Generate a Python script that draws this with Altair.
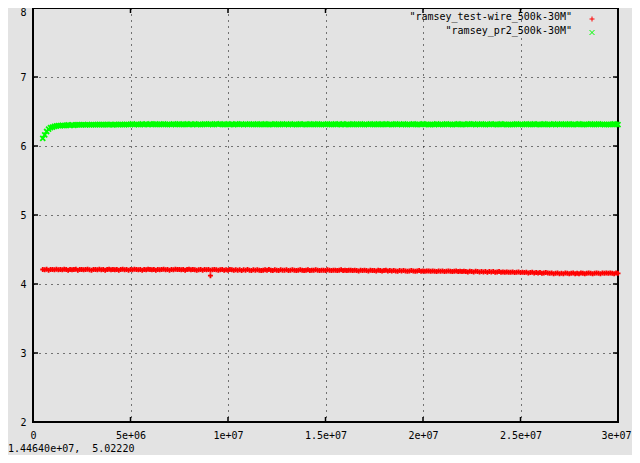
import altair as alt
import pandas as pd

# ---------------- data (x in units of 1e6) ----------------
X_M = [
    0.5, 0.6, 0.7, 0.8, 0.9, 1.0, 1.1, 1.2, 1.3, 1.4,
    1.5, 1.6, 1.7, 1.8, 1.9, 2.0, 2.1, 2.2, 2.3, 2.4,
    2.5, 2.6, 2.7, 2.8, 2.9, 3.0, 3.1, 3.2, 3.3, 3.4,
    3.5, 3.6, 3.7, 3.8, 3.9, 4.0, 4.1, 4.2, 4.3, 4.4,
    4.5, 4.6, 4.7, 4.8, 4.9, 5.0, 5.1, 5.2, 5.3, 5.4,
    5.5, 5.6, 5.7, 5.8, 5.9, 6.0, 6.1, 6.2, 6.3, 6.4,
    6.5, 6.6, 6.7, 6.8, 6.9, 7.0, 7.1, 7.2, 7.3, 7.4,
    7.5, 7.6, 7.7, 7.8, 7.9, 8.0, 8.1, 8.2, 8.3, 8.4,
    8.5, 8.6, 8.7, 8.8, 8.9, 9.0, 9.1, 9.2, 9.3, 9.4,
    9.5, 9.6, 9.7, 9.8, 9.9, 10.0, 10.1, 10.2, 10.3, 10.4,
    10.5, 10.6, 10.7, 10.8, 10.9, 11.0, 11.1, 11.2, 11.3, 11.4,
    11.5, 11.6, 11.7, 11.8, 11.9, 12.0, 12.1, 12.2, 12.3, 12.4,
    12.5, 12.6, 12.7, 12.8, 12.9, 13.0, 13.1, 13.2, 13.3, 13.4,
    13.5, 13.6, 13.7, 13.8, 13.9, 14.0, 14.1, 14.2, 14.3, 14.4,
    14.5, 14.6, 14.7, 14.8, 14.9, 15.0, 15.1, 15.2, 15.3, 15.4,
    15.5, 15.6, 15.7, 15.8, 15.9, 16.0, 16.1, 16.2, 16.3, 16.4,
    16.5, 16.6, 16.7, 16.8, 16.9, 17.0, 17.1, 17.2, 17.3, 17.4,
    17.5, 17.6, 17.7, 17.8, 17.9, 18.0, 18.1, 18.2, 18.3, 18.4,
    18.5, 18.6, 18.7, 18.8, 18.9, 19.0, 19.1, 19.2, 19.3, 19.4,
    19.5, 19.6, 19.7, 19.8, 19.9, 20.0, 20.1, 20.2, 20.3, 20.4,
    20.5, 20.6, 20.7, 20.8, 20.9, 21.0, 21.1, 21.2, 21.3, 21.4,
    21.5, 21.6, 21.7, 21.8, 21.9, 22.0, 22.1, 22.2, 22.3, 22.4,
    22.5, 22.6, 22.7, 22.8, 22.9, 23.0, 23.1, 23.2, 23.3, 23.4,
    23.5, 23.6, 23.7, 23.8, 23.9, 24.0, 24.1, 24.2, 24.3, 24.4,
    24.5, 24.6, 24.7, 24.8, 24.9, 25.0, 25.1, 25.2, 25.3, 25.4,
    25.5, 25.6, 25.7, 25.8, 25.9, 26.0, 26.1, 26.2, 26.3, 26.4,
    26.5, 26.6, 26.7, 26.8, 26.9, 27.0, 27.1, 27.2, 27.3, 27.4,
    27.5, 27.6, 27.7, 27.8, 27.9, 28.0, 28.1, 28.2, 28.3, 28.4,
    28.5, 28.6, 28.7, 28.8, 28.9, 29.0, 29.1, 29.2, 29.3, 29.4,
    29.5, 29.6, 29.7, 29.8, 29.9, 30.0,
]

RED_Y = [
    4.21, 4.205, 4.215, 4.2, 4.21, 4.21, 4.205, 4.215, 4.205, 4.21,
    4.205, 4.215, 4.21, 4.2, 4.21, 4.205, 4.21, 4.215, 4.2, 4.21,
    4.21, 4.205, 4.21, 4.215, 4.205, 4.2, 4.21, 4.21, 4.205, 4.215,
    4.205, 4.21, 4.2, 4.21, 4.215, 4.205, 4.21, 4.205, 4.21, 4.2,
    4.21, 4.215, 4.205, 4.21, 4.2, 4.21, 4.205, 4.215, 4.21, 4.205,
    4.21, 4.2, 4.21, 4.205, 4.215, 4.21, 4.205, 4.21, 4.2, 4.21,
    4.205, 4.21, 4.215, 4.205, 4.21, 4.2, 4.21, 4.205, 4.215, 4.21,
    4.21, 4.205, 4.21, 4.2, 4.21, 4.215, 4.205, 4.21, 4.205, 4.2,
    4.205, 4.21, 4.2, 4.21, 4.205, 4.21, 4.2, 4.205, 4.21, 4.205,
    4.2, 4.205, 4.21, 4.2, 4.205, 4.2, 4.21, 4.205, 4.2, 4.205,
    4.2, 4.205, 4.195, 4.205, 4.2, 4.21, 4.2, 4.195, 4.205, 4.2,
    4.205, 4.2, 4.195, 4.2, 4.205, 4.2, 4.21, 4.2, 4.195, 4.205,
    4.2, 4.195, 4.205, 4.2, 4.2, 4.205, 4.195, 4.2, 4.205, 4.2,
    4.195, 4.2, 4.205, 4.2, 4.195, 4.2, 4.205, 4.195, 4.2, 4.2,
    4.205, 4.2, 4.195, 4.2, 4.2, 4.195, 4.205, 4.2, 4.195, 4.2,
    4.2, 4.195, 4.2, 4.205, 4.195, 4.2, 4.195, 4.2, 4.2, 4.195,
    4.2, 4.195, 4.19, 4.2, 4.195, 4.2, 4.195, 4.19, 4.2, 4.195,
    4.195, 4.19, 4.2, 4.195, 4.19, 4.195, 4.2, 4.19, 4.195, 4.19,
    4.195, 4.19, 4.185, 4.195, 4.19, 4.195, 4.19, 4.185, 4.19, 4.195,
    4.19, 4.185, 4.19, 4.195, 4.185, 4.19, 4.185, 4.19, 4.19, 4.185,
    4.19, 4.185, 4.18, 4.19, 4.185, 4.19, 4.18, 4.185, 4.19, 4.185,
    4.18, 4.185, 4.19, 4.18, 4.185, 4.18, 4.185, 4.18, 4.175, 4.185,
    4.18, 4.175, 4.185, 4.18, 4.175, 4.18, 4.175, 4.18, 4.17, 4.18,
    4.175, 4.18, 4.17, 4.175, 4.18, 4.17, 4.175, 4.17, 4.175, 4.17,
    4.17, 4.175, 4.165, 4.17, 4.175, 4.165, 4.17, 4.165, 4.17, 4.16,
    4.165, 4.17, 4.16, 4.165, 4.16, 4.165, 4.155, 4.16, 4.165, 4.16,
    4.155, 4.16, 4.15, 4.155, 4.16, 4.15, 4.155, 4.15, 4.16, 4.155,
    4.15, 4.155, 4.16, 4.15, 4.155, 4.15, 4.16, 4.155, 4.15, 4.155,
    4.16, 4.155, 4.15, 4.155, 4.16, 4.155, 4.15, 4.16, 4.155, 4.16,
    4.155, 4.16, 4.155, 4.15, 4.16, 4.155,
]
RED_OUT_X_M = [9.1]
RED_OUT_Y = [4.12]

GREEN_Y = [
    6.11, 6.16, 6.21, 6.245, 6.265, 6.275, 6.285, 6.29, 6.295, 6.295,
    6.3, 6.295, 6.3, 6.305, 6.3, 6.305, 6.3, 6.305, 6.31, 6.305,
    6.305, 6.31, 6.305, 6.31, 6.305, 6.31, 6.31, 6.305, 6.31, 6.315,
    6.31, 6.305, 6.31, 6.315, 6.31, 6.31, 6.305, 6.315, 6.31, 6.31,
    6.315, 6.31, 6.31, 6.315, 6.31, 6.315, 6.32, 6.31, 6.315, 6.31,
    6.315, 6.32, 6.31, 6.315, 6.315, 6.32, 6.31, 6.315, 6.32, 6.315,
    6.31, 6.315, 6.32, 6.315, 6.31, 6.315, 6.315, 6.32, 6.31, 6.315,
    6.32, 6.315, 6.31, 6.315, 6.32, 6.315, 6.315, 6.31, 6.32, 6.315,
    6.315, 6.31, 6.315, 6.32, 6.315, 6.315, 6.32, 6.31, 6.315, 6.32,
    6.315, 6.32, 6.315, 6.31, 6.315, 6.32, 6.315, 6.315, 6.31, 6.32,
    6.315, 6.315, 6.32, 6.31, 6.315, 6.315, 6.32, 6.315, 6.31, 6.315,
    6.32, 6.315, 6.31, 6.315, 6.32, 6.315, 6.31, 6.315, 6.315, 6.32,
    6.315, 6.31, 6.315, 6.32, 6.315, 6.315, 6.31, 6.32, 6.315, 6.315,
    6.31, 6.315, 6.32, 6.315, 6.315, 6.31, 6.315, 6.32, 6.315, 6.31,
    6.315, 6.32, 6.315, 6.31, 6.315, 6.315, 6.32, 6.315, 6.31, 6.315,
    6.32, 6.315, 6.315, 6.31, 6.32, 6.315, 6.315, 6.31, 6.315, 6.32,
    6.315, 6.31, 6.315, 6.32, 6.315, 6.31, 6.315, 6.315, 6.32, 6.315,
    6.31, 6.315, 6.32, 6.315, 6.31, 6.315, 6.32, 6.315, 6.315, 6.31,
    6.315, 6.32, 6.315, 6.315, 6.31, 6.32, 6.315, 6.31, 6.315, 6.315,
    6.32, 6.315, 6.31, 6.315, 6.315, 6.32, 6.315, 6.315, 6.31, 6.315,
    6.315, 6.31, 6.32, 6.315, 6.315, 6.31, 6.315, 6.32, 6.315, 6.315,
    6.31, 6.315, 6.315, 6.32, 6.315, 6.31, 6.315, 6.315, 6.32, 6.315,
    6.315, 6.32, 6.31, 6.315, 6.315, 6.32, 6.315, 6.31, 6.315, 6.315,
    6.32, 6.315, 6.315, 6.31, 6.315, 6.32, 6.315, 6.315, 6.31, 6.315,
    6.315, 6.31, 6.315, 6.32, 6.315, 6.315, 6.31, 6.315, 6.32, 6.315,
    6.31, 6.315, 6.32, 6.315, 6.315, 6.31, 6.315, 6.32, 6.315, 6.31,
    6.315, 6.315, 6.32, 6.31, 6.315, 6.315, 6.32, 6.315, 6.31, 6.315,
    6.32, 6.315, 6.31, 6.315, 6.315, 6.32, 6.315, 6.31, 6.315, 6.315,
    6.315, 6.32, 6.315, 6.31, 6.315, 6.32, 6.315, 6.315, 6.31, 6.315,
    6.315, 6.31, 6.315, 6.32, 6.315, 6.31,
]

SERIES = ['"ramsey_test-wire_500k-30M"', '"ramsey_pr2_500k-30M"']
COLORS = ["#ff0000", "#00ff00"]
X_TICKS = [0, 5e6, 1e7, 1.5e7, 2e7, 2.5e7, 3e7]
X_TICK_LABELS = ["0", "5e+06", "1e+07", "1.5e+07", "2e+07", "2.5e+07", "3e+07"]
Y_TICKS = [2, 3, 4, 5, 6, 7, 8]
STATUS = "1.44640e+07,\u00a0 5.02220"

# ---------------- styling ----------------
FONT = "DejaVu Sans Mono"
FS = 10
W, H = 585, 414
PAD = {"left": 25, "top": 0, "right": 14, "bottom": 33}
BG = "#e3e3e3"
PLUS = "M-1,0L1,0M0,-1L0,1"
CROSS = "M-1,-1L1,1M-1,1L1,-1"

red_df = pd.DataFrame({"x": [v * 1e6 for v in X_M + RED_OUT_X_M], "y": RED_Y + RED_OUT_Y})
green_df = pd.DataFrame({"x": [v * 1e6 for v in X_M], "y": GREEN_Y})

xscale = alt.Scale(domain=[X_TICKS[0], X_TICKS[-1]], nice=False, zero=False)
yscale = alt.Scale(domain=[Y_TICKS[0], Y_TICKS[-1]], nice=False, zero=False)

label_expr = "[" + ",".join("'%s'" % s for s in X_TICK_LABELS) + "][round(datum.value/5000000)]"

grid_kw = dict(grid=True, gridDash=[1, 5], gridColor="black", gridOpacity=1, gridWidth=1,
               domain=False, ticks=False, labelFont=FONT, labelFontSize=FS,
               labelColor="black", title=None, labelOverlap=False, labelFlush=False)
xaxis = alt.Axis(
    values=X_TICKS, labelExpr=label_expr, labelPadding=8,
    labelOffset={"condition": {"test": "datum.value == %d" % X_TICKS[-1], "value": -2}, "value": 0},
    **grid_kw)
yaxis = alt.Axis(
    values=Y_TICKS, format="d", labelPadding=7,
    labelOffset={"condition": {"test": "datum.value == %d" % Y_TICKS[-1], "value": 4}, "value": 0},
    **grid_kw)

xenc = alt.X("x:Q", scale=xscale, axis=xaxis)
yenc = alt.Y("y:Q", scale=yscale, axis=yaxis)

red = alt.Chart(red_df).mark_point(shape=PLUS, size=25, strokeWidth=1.8, filled=False,
                                   opacity=1, color=COLORS[0]).encode(x=xenc, y=yenc)
green = alt.Chart(green_df).mark_point(shape=CROSS, size=25, strokeWidth=1.8, filled=False,
                                       opacity=1, color=COLORS[1]).encode(x=xenc, y=yenc)

xt_df = pd.DataFrame({"x": X_TICKS[1:-1]})
yt_df = pd.DataFrame({"y": Y_TICKS[1:-1]})
tick_mark = dict(color="black", strokeWidth=1.5)
ticks_bottom = alt.Chart(xt_df).mark_rule(**tick_mark).encode(x=xenc, y=alt.value(H), y2=alt.value(H - 5))
ticks_top = alt.Chart(xt_df).mark_rule(**tick_mark).encode(x=xenc, y=alt.value(0), y2=alt.value(5))
ticks_left = alt.Chart(yt_df).mark_rule(**tick_mark).encode(y=yenc, x=alt.value(0), x2=alt.value(5))
ticks_right = alt.Chart(yt_df).mark_rule(**tick_mark).encode(y=yenc, x=alt.value(W), x2=alt.value(W - 5))

legend_layers = []
shapes = [PLUS, CROSS]
ys = [(12, 11), (25.5, 24.5)]
for i in range(2):
    ldf = pd.DataFrame({"label": [SERIES[i]]})
    legend_layers.append(
        alt.Chart(ldf).mark_text(align="right", baseline="alphabetic", font=FONT,
                                 fontSize=FS, color="black")
        .encode(text="label:N", x=alt.value(539), y=alt.value(ys[i][0]))
    )
    legend_layers.append(
        alt.Chart(ldf).mark_point(shape=shapes[i], size=25, strokeWidth=1,
                                  filled=False, opacity=1, color=COLORS[i])
        .encode(x=alt.value(559), y=alt.value(ys[i][1]))
    )

status = alt.Chart(pd.DataFrame({"t": [STATUS]})).mark_text(
    align="left", baseline="alphabetic", font=FONT, fontSize=FS, color="black"
).encode(text="t:N", x=alt.value(-25), y=alt.value(444))

chart = alt.layer(
    red, green, ticks_bottom, ticks_top, ticks_left, ticks_right, status, *legend_layers
).properties(
    width=W, height=H,
    padding=PAD,
    autosize=alt.AutoSizeParams(type="none"),
    background=BG,
).configure_view(stroke="black", strokeWidth=2)

chart.save("out.html", embed_options={"renderer": "svg", "actions": False})
